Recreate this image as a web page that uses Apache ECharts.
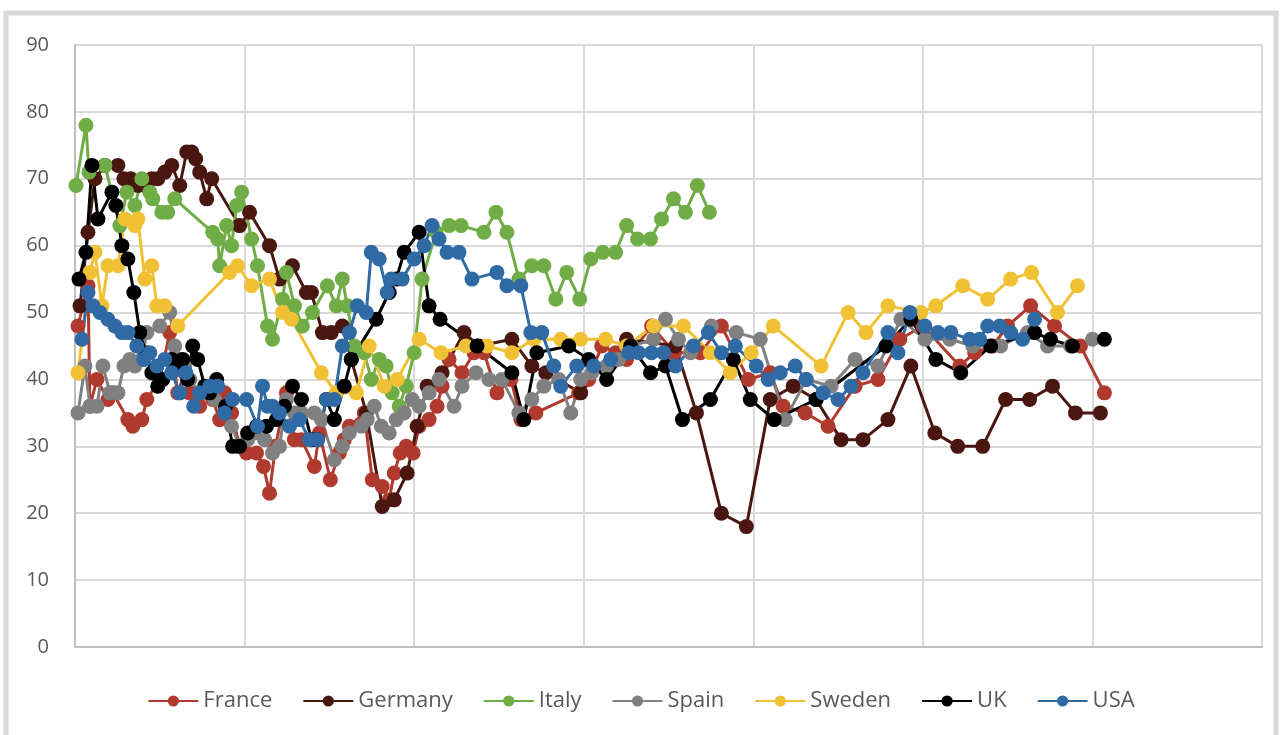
<!DOCTYPE html>
<html>
<head>
<meta charset="utf-8">
<script src="https://cdn.jsdelivr.net/npm/echarts@6/dist/echarts.min.js"></script>
<style>
  html, body { margin: 0; padding: 0; background: #fff; }
  #chart { width: 1282px; height: 735px; }
</style>
</head>
<body>
<div id="chart"></div>
<script>
  // x is an unlabelled time index, gridlines every 170 units
  var franceX = [3,13,15,22,33,38,53,58,67,72,85,95,103,110,115,125,132,138,145,150,157,165,172,182,189,195,201,212,220,227,240,245,256,265,270,275,290,298,308,315,320,326,332,339,345,355,363,368,375,388,400,410,423,437,447,462,505,515,528,542,553,578,601,627,648,675,697,710,732,755,782,805,827,850,887,902,920,935,958,982,1008,1032];
  var franceY = [48,54,36,40,37,38,34,33,34,37,40,47,38,41,38,36,38,37,34,38,35,30,29,29,27,23,30,38,31,31,27,32,25,29,31,33,35,25,24,22,26,29,30,29,33,34,36,39,43,41,44,44,38,40,34,35,38,40,45,44,43,48,44,44,48,40,41,36,35,33,39,40,46,48,42,44,45,48,51,48,45,38];

  var germanyX = [5,13,20,30,43,49,56,63,70,77,83,90,97,105,112,117,121,125,132,137,165,175,195,205,218,232,237,248,257,268,277,292,308,320,333,343,353,368,390,405,438,458,472,507,553,602,623,648,673,697,720,743,768,790,815,838,862,885,910,933,957,980,1003,1028];
  var germanyY = [51,62,70,72,72,70,70,69,69,70,70,71,72,69,74,74,73,71,67,70,63,65,60,55,57,53,53,47,47,48,43,35,21,22,26,33,39,41,47,45,46,42,41,38,46,45,35,20,18,37,39,37,31,31,34,42,32,30,30,37,37,39,35,35];

  var italyX = [1,11,14,30,45,52,60,67,75,78,87,93,100,138,143,145,152,157,162,167,177,183,193,198,208,212,220,228,238,253,262,268,273,280,290,297,305,312,318,325,332,340,348,362,375,387,410,422,433,445,458,470,482,493,506,517,529,542,553,564,577,588,600,612,624,636];
  var italyY = [69,78,71,72,63,68,66,70,68,67,65,65,67,62,61,57,63,60,66,68,61,57,48,46,52,56,51,48,50,54,51,55,51,45,44,40,43,42,38,36,39,44,55,62,63,63,62,65,62,55,57,57,52,56,52,58,59,59,63,61,61,64,67,65,69,65];

  var spainX = [3,10,15,22,28,35,43,49,55,60,67,72,85,95,100,105,110,115,125,132,140,150,157,165,173,180,190,198,205,212,220,227,240,247,260,268,275,287,293,300,307,315,322,330,338,345,355,365,380,388,402,415,428,445,458,470,485,497,507,518,533,545,558,580,592,605,617,638,663,687,712,733,758,782,805,828,852,877,900,928,955,975,998,1020];
  var spainY = [35,42,36,36,42,38,38,42,43,42,43,47,48,50,45,43,42,40,38,38,37,36,33,30,31,32,31,29,30,37,35,35,35,34,28,30,32,33,34,36,33,32,34,35,37,36,38,40,36,39,41,40,40,35,37,39,40,35,40,41,42,43,45,46,49,46,44,48,47,46,34,40,39,43,42,49,46,46,45,45,47,45,45,46];

  var swedenX = [3,15,20,27,33,43,50,60,63,70,77,82,90,103,155,163,177,195,208,217,247,262,282,295,310,323,345,367,392,413,438,460,487,507,532,553,580,610,637,657,678,700,748,775,793,815,848,863,890,915,938,959,985,1005];
  var swedenY = [41,56,59,51,57,57,64,63,64,55,57,51,51,48,56,57,54,55,50,49,41,38,38,45,39,40,46,44,45,45,44,46,46,46,46,45,48,48,44,41,44,48,42,50,47,51,50,51,54,52,55,56,50,54];

  var ukX = [4,11,17,23,37,41,47,53,59,65,71,77,83,88,97,103,108,113,118,123,130,135,142,151,158,165,173,182,192,202,210,218,227,237,243,252,260,270,277,302,315,322,330,345,355,366,403,438,450,463,495,515,533,557,577,592,609,637,660,677,701,743,813,838,863,888,918,962,978,1000,1032];
  var ukY = [55,59,72,64,68,66,60,58,53,47,44,41,39,40,43,42,43,40,45,43,39,38,40,36,30,30,32,33,33,34,36,39,37,31,31,37,34,39,43,49,53,55,59,62,51,49,45,41,34,44,45,43,40,45,41,42,34,37,43,37,34,37,45,49,43,41,45,47,46,45,46];

  var usaX = [7,13,18,25,33,40,47,53,62,69,75,82,90,97,105,111,119,125,135,143,150,158,172,183,188,193,198,205,215,225,235,243,252,260,268,275,283,292,297,305,313,317,328,340,350,358,365,373,385,398,423,433,447,457,468,480,487,503,520,537,555,565,578,590,602,620,635,648,662,683,695,707,722,733,750,765,778,790,815,825,837,852,865,878,897,907,915,927,938,950,962];
  var usaY = [46,53,51,50,49,48,47,47,45,43,44,42,43,41,38,41,36,38,39,39,35,37,37,33,39,36,36,35,33,34,31,31,37,37,45,47,51,50,59,58,53,55,55,58,60,63,61,59,59,55,56,54,54,47,47,42,39,42,42,43,44,44,44,44,42,45,47,44,45,42,40,41,42,40,38,37,39,41,47,44,50,48,47,47,46,46,48,48,47,46,49];

  var names = ['France', 'Germany', 'Italy', 'Spain', 'Sweden', 'UK', 'USA'];
  var colors = ['#B03A2E', '#4A1610', '#70AD47', '#808080', '#F0C134', '#000000', '#2F6AA5'];
  var xs = [franceX, germanyX, italyX, spainX, swedenX, ukX, usaX];
  var ys = [franceY, germanyY, italyY, spainY, swedenY, ukY, usaY];

  function pairs(x, y) {
    var out = [];
    for (var i = 0; i < x.length; i++) out.push([x[i], y[i]]);
    return out;
  }

  var series = names.map(function (n, i) {
    return {
      name: n,
      type: 'line',
      data: pairs(xs[i], ys[i]),
      symbol: 'circle',
      symbolSize: 15,
      lineStyle: {width: 3, color: colors[i]},
      itemStyle: {color: colors[i]},
      emphasis: {disabled: true},
      animation: false
    };
  });

  var myChart = echarts.init(document.getElementById('chart'));
  myChart.setOption({
    textStyle: {fontFamily: 'Open Sans'},
    graphic: [{
      type: 'rect',
      shape: {x: 6, y: 13, width: 1270, height: 740},
      style: {fill: 'none', stroke: '#D9D9D9', lineWidth: 5},
      silent: true
    }],
    grid: {left: 75, right: 20, top: 45, bottom: 88},
    legend: {
      bottom: 18,
      left: 'center',
      itemWidth: 50,
      itemHeight: 14,
      itemGap: 30,
      textStyle: {fontSize: 22, color: '#595959', fontFamily: 'Open Sans'},
      data: names
    },
    xAxis: {
      type: 'value',
      min: 0,
      max: 1190,
      interval: 170,
      axisLabel: {show: false},
      axisTick: {show: false},
      axisLine: {show: true, lineStyle: {color: '#BFBFBF', width: 2}},
      splitLine: {show: true, lineStyle: {color: '#D9D9D9', width: 2}}
    },
    yAxis: {
      type: 'value',
      min: 0,
      max: 90,
      interval: 10,
      axisLabel: {fontSize: 20, color: '#595959', margin: 26},
      axisTick: {show: false},
      axisLine: {show: true, lineStyle: {color: '#BFBFBF', width: 2}},
      splitLine: {show: true, lineStyle: {color: '#D9D9D9', width: 2}}
    },
    series: series
  });
</script>
</body>
</html>
